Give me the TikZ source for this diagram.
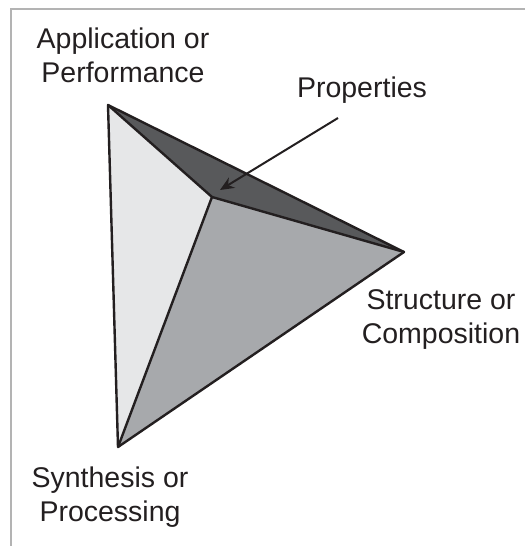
\documentclass[tikz,border=0pt]{standalone}
\usepackage{fontspec}
\setmainfont{Liberation Sans}
\usetikzlibrary{arrows.meta}
\definecolor{lightface}{HTML}{E6E7E8}
\definecolor{darkface}{HTML}{58595B}
\definecolor{midface}{HTML}{A7A9AC}
\definecolor{ink}{HTML}{231F20}
\definecolor{framegray}{HTML}{B3B3B3}
\begin{document}
\begin{tikzpicture}[x=1pt,y=-1pt,
  face/.style={draw=ink,line width=2.4pt,line join=round},
  lbl/.style={font=\fontsize{28.5}{34}\selectfont,text=ink,align=center,inner sep=0pt,anchor=base},
  pointer/.style={draw=ink,line width=2pt,-{Stealth[length=14pt,width=12pt]}}]
\useasboundingbox (0,0) rectangle (525,546);
\draw[framegray,line width=1.6pt] (11,546) -- (11,9) -- (525,9);
\coordinate (A) at (108,105);
\coordinate (B) at (118,447);
\coordinate (C) at (404,252);
\coordinate (D) at (212,197);
\fill[lightface] (A) -- (D) -- (B) -- cycle;
\fill[darkface] (A) -- (C) -- (D) -- cycle;
\fill[midface] (D) -- (C) -- (B) -- cycle;
\draw[face] (A) -- (C) -- (B) -- cycle;
\draw[face] (A) -- (D) -- (C) (D) -- (B);
\node[lbl] (app) at (123,82) {Application or\\Performance};
\node[lbl] (prop) at (362,97) {Properties};
\node[lbl] (struct) at (441,343) {Structure or\\Composition};
\node[lbl] (synth) at (110,521) {Synthesis or\\Processing};
\coordinate (tail) at (338,118);
\coordinate (tip) at (220,190);
\draw[pointer] (tail) -- (tip);
\end{tikzpicture}
\end{document}
